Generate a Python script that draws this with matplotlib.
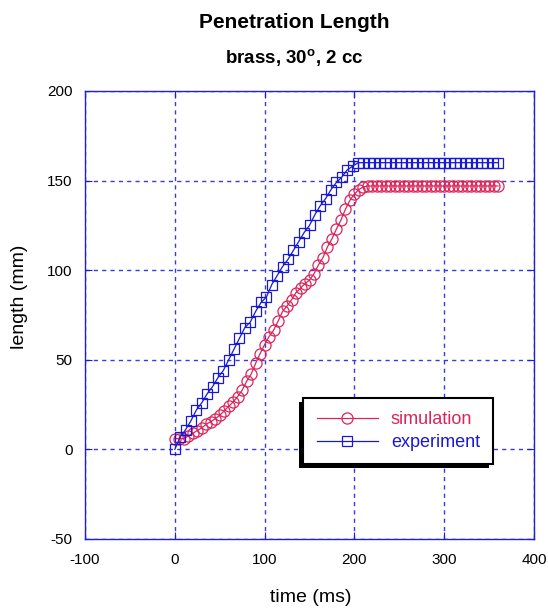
import matplotlib
matplotlib.use("Agg")
import matplotlib.pyplot as plt
from matplotlib.patches import Rectangle
import numpy as np

plt.rcParams['font.family'] = ['Liberation Sans', 'DejaVu Sans']
plt.rcParams['mathtext.fontset'] = 'custom'
plt.rcParams['mathtext.rm'] = 'Liberation Sans'
plt.rcParams['mathtext.bf'] = 'Liberation Sans:bold'
plt.rcParams['axes.unicode_minus'] = False

# ---- data ----
sim_time = [0, 5, 10, 15, 20, 25, 30, 35, 40, 45, 50, 55, 60, 65, 70, 75, 80, 85, 90, 95,
            100, 105, 110, 115, 120, 125, 130, 135, 140, 145, 150, 155, 160, 165, 170, 175,
            180, 185, 190, 195, 200, 205, 210, 215, 220, 225, 230, 235, 240, 245, 250, 255,
            260, 265, 270, 275, 280, 285, 290, 295, 300, 305, 310, 315, 320, 325, 330, 335,
            340, 345, 350, 355, 360]
sim_length = [6, 6, 6, 7.5, 9, 10.5, 12, 14, 15.5, 17, 19, 21.5, 24, 26.5, 29.5, 33, 38, 42, 48, 53.5,
              58.5, 63, 66.5, 71.5, 77, 80, 83.5, 87.5, 90, 92.5, 94.5, 98, 103, 107, 113, 117.5,
              123, 128, 134, 139, 142.5, 145, 146.5, 147, 147, 147, 147, 147, 147, 147, 147, 147,
              147, 147, 147, 147, 147, 147, 147, 147, 147, 147, 147, 147, 147, 147, 147, 147,
              147, 147, 147, 147, 147]

exp_time = [0, 6, 12, 18, 24, 30, 36, 42, 48, 54, 60, 66, 72, 78, 84, 90, 96, 102, 108, 114,
            120, 126, 132, 138, 144, 150, 156, 162, 168, 174, 180, 186, 192, 198, 204, 210,
            216, 222, 228, 234, 240, 246, 252, 258, 264, 270, 276, 282, 288, 294, 300, 306,
            312, 318, 324, 330, 336, 342, 348, 354, 360]
exp_length = [0, 7, 11, 16, 22, 26, 31, 35, 40, 44, 50, 56, 62, 68, 71, 77, 82, 85, 92, 97,
              102, 106, 111, 116, 121, 125, 131, 136, 140, 145, 149, 152, 156, 158, 160, 160,
              160, 160, 160, 160, 160, 160, 160, 160, 160, 160, 160, 160, 160, 160, 160, 160,
              160, 160, 160, 160, 160, 160, 160, 160, 160]

x_ticks = [-100, 0, 100, 200, 300, 400]
y_ticks = [-50, 0, 50, 100, 150, 200]

SIM_C = '#dc2458'
EXP_C = '#1818d8'
AX_C = '#2020d0'

fig = plt.figure(figsize=(5.48, 6.09), dpi=100)
ax = fig.add_axes([85/548, 1 - 539/609, (534-85)/548, (539-91)/609])

ax.set_xlim(-100, 400)
ax.set_ylim(-50, 200)
ax.set_xticks(x_ticks)
ax.set_yticks(y_ticks)
ax.grid(True, color='#3a3ae0', linestyle=(0, (3, 3)), linewidth=1.0)
ax.set_axisbelow(True)

ax.plot(sim_time, sim_length, color=SIM_C, linewidth=0.9, marker='o', markersize=8,
        markerfacecolor='none', markeredgecolor=SIM_C, markeredgewidth=0.9, label='simulation')
ax.plot(exp_time, exp_length, color=EXP_C, linewidth=0.9, marker='s', markersize=7.5,
        markerfacecolor='none', markeredgecolor=EXP_C, markeredgewidth=0.9, label='experiment')

for s in ax.spines.values():
    s.set_color(AX_C)
    s.set_linewidth(1.0)
ax.tick_params(direction='in', length=5, color=AX_C, top=True, right=True,
               labelsize=11, labelcolor='black')
ax.tick_params(axis='x', pad=10)
ax.tick_params(axis='y', pad=9)

ax.set_xlabel('time (ms)', fontsize=14, va='center')
ax.set_ylabel('length (mm)', fontsize=14, va='center')
ax.xaxis.set_label_coords((311-85)/(534-85), -(598-539)/448)
ax.yaxis.set_label_coords(-(85-20)/449, (539-297)/448)

leg = ax.legend(loc='upper left', bbox_to_anchor=(0.486, 0.315), frameon=True,
                fancybox=False, edgecolor='black', framealpha=1, fontsize=13,
                handlelength=3.4, borderpad=0.75, labelspacing=0.3, handletextpad=0.7,
                borderaxespad=0)
leg.get_frame().set_linewidth(1.5)
leg.set_zorder(10)
for txt, c in zip(leg.get_texts(), [SIM_C, EXP_C]):
    txt.set_color(c)

fig.canvas.draw()
bb = leg.get_window_extent().transformed(fig.transFigure.inverted())
dx = 4 / 548
dy = 4 / 609
shadow = Rectangle((bb.x0 - dx, bb.y0 - dy), bb.width, bb.height, transform=fig.transFigure,
                   facecolor='black', edgecolor='none', zorder=9)
ax.add_artist(shadow)
shadow.set_clip_on(False)

fig.text(294/548, 1 - 22/609, 'Penetration Length', ha='center', va='center',
         fontsize=15, fontweight='bold')
fig.text(294/548, 1 - 58/609, r'brass, 30$^{\mathbf{o}}$, 2 cc', ha='center', va='center',
         fontsize=13.5, fontweight='bold')

fig.savefig('out.png', dpi=100)
